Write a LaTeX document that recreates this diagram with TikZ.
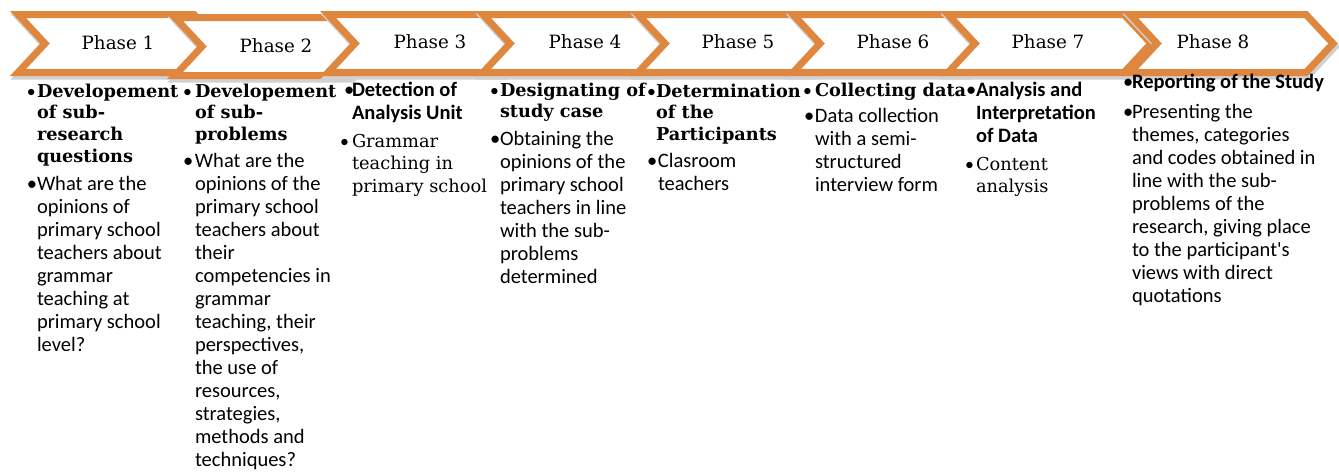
\documentclass[tikz,border=0pt]{standalone}
\usepackage{fontspec}
\setmainfont{Carlito}
\newfontfamily\serif{DejaVu Serif}
\newfontfamily\calib{Carlito}
\definecolor{chevor}{RGB}{224,135,63}
\newcommand\bul[1]{\llap{\makebox[#1pt][l]{\calib\mdseries •}}}
\newcommand\tstrut{\rule{0pt}{17pt}}
\tikzset{
  chev/.style={draw=chevor, line width=7pt, fill=white, line join=miter},
  chevshadow/.style={draw=black!18, fill=black!18, line width=8pt, line join=miter},
  txt/.style={anchor=north west, inner sep=0pt, outer sep=0pt, align=left},
  hs/.style={txt, font=\serif\bfseries\fontsize{17.7}{21.7}\selectfont},
  hc/.style={txt, font=\calib\bfseries\fontsize{20.5}{23}\selectfont},
  bc/.style={txt, font=\calib\fontsize{20.5}{23}\selectfont},
  bs/.style={txt, font=\serif\fontsize{17.8}{22.5}\selectfont},
  phase/.style={font=\serif\fontsize{18.3}{20}\selectfont, inner sep=0pt},
}
\begin{document}
\begin{tikzpicture}[x=1pt, y=-1pt]
\useasboundingbox (0,0) rectangle (1339,474);
% chevrons, each with a soft shadow underneath
\foreach \x/\dy in {18/0, 175/3, 328/0, 483/0, 638/0, 793/0, 948/0, 1130/0}{
  \draw[chevshadow] (\x+1.5,17.5+\dy) -- ++(176,0) -- ++(27,29) -- ++(-27,29) -- ++(-176,0) -- ++(27,-29) -- cycle;
  \draw[chev] (\x,14.5+\dy) -- ++(176,0) -- ++(27,29) -- ++(-27,29) -- ++(-176,0) -- ++(27,-29) -- cycle;
}
\node[phase] (p1) at (118,43) {Phase 1};
\node[phase] (p2) at (276,46) {Phase 2};
\node[phase] (p3) at (430,42) {Phase 3};
\node[phase] (p4) at (585,42) {Phase 4};
\node[phase] (p5) at (738,42) {Phase 5};
\node[phase] (p6) at (893,42) {Phase 6};
\node[phase] (p7) at (1048,42) {Phase 7};
\node[phase] (p8) at (1213,42) {Phase 8};
% column 1
\node[hs] (h1) at (37,80) {\tstrut\bul{10}Developement\\of sub-\\research\\questions};
\node[bc] (b1) at (37,173) {\tstrut\bul{10}What are the\\opinions of\\primary school\\teachers about\\grammar\\teaching at\\primary school\\level?};
% column 2
\node[hs] (h2) at (195,80) {\tstrut\bul{12}Developement\\of sub-\\problems};
\node[bc] (b2) at (195,150) {\tstrut\bul{12}What are the\\opinions of the\\primary school\\teachers about\\their\\competencies in\\grammar\\teaching, their\\perspectives,\\the use of\\resources,\\strategies,\\methods and\\techniques?};
% column 3
\node[hc] (h3) at (352,79) {\tstrut\bul{8}Detection of\\Analysis Unit};
\node[bs] (b3) at (352,130) {\tstrut\bul{12}Grammar\\teaching in\\primary school};
% column 4
\node[hs] (h4) at (500,79) {\tstrut\bul{10}Designating of\\study case};
\node[bc] (b4) at (500,128) {\tstrut\bul{10}Obtaining the\\opinions of the\\primary school\\teachers in line\\with the sub-\\problems\\determined};
% column 5
\node[hs] (h5) at (656,80) {\tstrut\bul{9}Determination\\of the\\Participants};
\node[bc] (b5) at (658,150) {\tstrut\bul{11}Clasroom\\teachers};
% column 6
\node[hs] (h6) at (815,79) {\tstrut\bul{12}Collecting data};
\node[bc] (b6) at (815,105) {\tstrut\bul{11}Data collection\\with a semi-\\structured\\interview form};
% column 7
\node[hc] (h7) at (976,79) {\tstrut\bul{10}Analysis and\\Interpretation\\of Data};
\node[bs] (b7) at (976,153) {\tstrut\bul{11}Content\\analysis};
% column 8
\node[hc] (h8) at (1132,71) {\tstrut\bul{9}Reporting of the Study};
\node[bc] (b8) at (1132,101) {\tstrut\bul{9}Presenting the\\themes, categories\\and codes obtained in\\line with the sub-\\problems of the\\research, giving place\\to the participant's\\views with direct\\quotations};
\end{tikzpicture}
\end{document}
